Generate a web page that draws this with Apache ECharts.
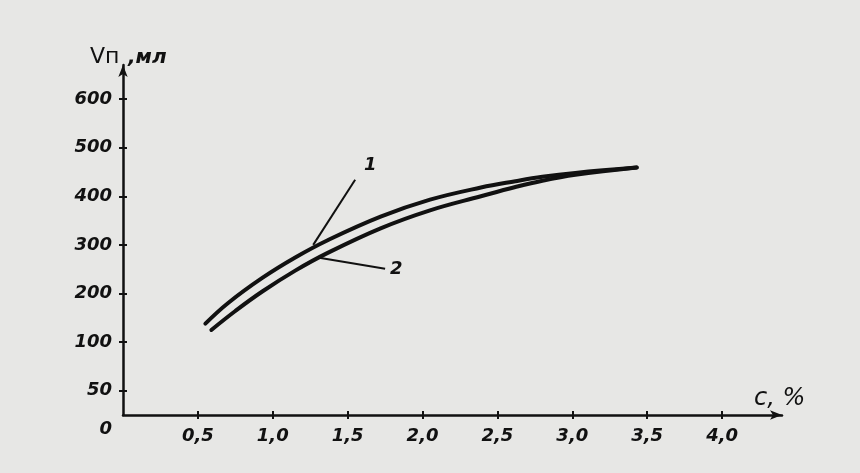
<!DOCTYPE html>
<html>
<head>
<meta charset="utf-8">
<script src="https://cdn.jsdelivr.net/npm/echarts@6/dist/echarts.min.js"></script>
<style>
  html, body { margin: 0; padding: 0; background: #e7e7e5; }
  #chart { width: 860px; height: 473px; }
</style>
</head>
<body>
<div id="chart"></div>
<script>
// C, %  vs  V, ml
const concentration1 = [0.55, 0.70, 0.93, 1.15, 1.37, 1.72, 2.05, 2.39, 2.62, 2.80, 3.02, 3.43];
const volume1 = [138, 180, 232, 274, 310, 358, 393, 418, 431, 440, 448, 459];
const concentration2 = [0.59, 0.75, 0.93, 1.15, 1.37, 1.72, 2.05, 2.39, 2.62, 2.80, 3.02, 3.43];
const volume2 = [125, 164, 204, 247, 284, 334, 371, 400, 419, 432, 444, 459];

// x ticks
const xTicks = [0.5, 1.0, 1.5, 2.0, 2.5, 3.0, 3.5, 4.0];
// y ticks: axis is broken below 100 (0 and 50 squeezed in under it)
const yTickLabels = ['0', '50', '100', '200', '300', '400', '500', '600'];
const yTickPos = [-0.5, 0, 1, 2, 3, 4, 5, 6];

// leader lines for curve labels, in data units
const leader1 = [[1.27, 300], [1.55, 434]];
const leader2 = [[1.30, 274], [1.75, 251]];

// y axis is in hundreds of ml
const toAxis = (v) => v / 100;

const ink = '#111';
const labelFont = { fontFamily: 'DejaVu Sans', fontStyle: 'italic', fontWeight: 'bold', fontSize: 18, color: ink };

const chart = echarts.init(document.getElementById('chart'));

const curve = (xs, ys) => xs.map((x, i) => [x, toAxis(ys[i])]);
const leader = (pts, text, pos) => ({
  type: 'line',
  data: pts.map((p, i) => ({
    value: [p[0], toAxis(p[1])],
    label: i === 1 ? { show: true, formatter: text, position: pos.position, offset: pos.offset, distance: 5,
      fontFamily: 'DejaVu Sans', fontStyle: 'italic', fontWeight: 'bold', fontSize: 18, color: ink } : { show: false }
  })),
  showSymbol: true,
  symbolSize: 0,
  lineStyle: { color: ink, width: 2 },
  z: 3
});

const option = {
  animation: false,
  backgroundColor: '#e7e7e5',
  grid: { left: 123, right: 78, top: 65, bottom: 58 },
  xAxis: [{
    type: 'value',
    min: 0,
    max: 4.4,
    splitLine: { show: false },
    axisLine: { onZero: false, lineStyle: { color: ink, width: 2.5 }, symbol: ['none', 'arrow'], symbolSize: [7, 12] },
    axisTick: { customValues: xTicks, length: 4, lineStyle: { color: ink, width: 2 } },
    axisLabel: {
      customValues: xTicks,
      margin: 12,
      ...labelFont,
      formatter: (v) => v.toFixed(1).replace('.', ',')
    },
    name: 'c, %',
    nameLocation: 'end',
    nameGap: -28,
    nameTextStyle: { fontFamily: 'DejaVu Sans', fontStyle: 'italic', fontSize: 24, color: ink,
      align: 'left', verticalAlign: 'bottom', padding: [0, 0, 4, 0] }
  }, {
    type: 'value',
    min: 0,
    max: 4.4,
    position: 'bottom',
    splitLine: { show: false },
    axisLine: { show: false, onZero: false },
    axisTick: { customValues: xTicks, inside: true, length: 4, lineStyle: { color: ink, width: 2 } },
    axisLabel: { show: false }
  }],
  yAxis: [{
    type: 'value',
    min: -0.5,
    max: 6.7,
    splitLine: { show: false },
    axisLine: { onZero: false, lineStyle: { color: ink, width: 2.5 }, symbol: ['none', 'arrow'], symbolSize: [7, 12] },
    axisTick: { customValues: yTickPos.slice(1), length: 4, lineStyle: { color: ink, width: 2 } },
    axisLabel: {
      customValues: yTickPos,
      margin: 11,
      ...labelFont,
      formatter: (v) => {
        const i = yTickPos.indexOf(v);
        const t = i >= 0 ? yTickLabels[i] : '';
        return v === -0.5 ? '{z|' + t + '}' : t;
      },
      rich: { z: { ...labelFont, padding: [28, 0, 0, 0] } }
    }
  }, {
    type: 'value',
    min: -0.5,
    max: 6.7,
    position: 'left',
    splitLine: { show: false },
    axisLine: { show: false, onZero: false },
    axisTick: { customValues: yTickPos.slice(1), inside: true, length: 4, lineStyle: { color: ink, width: 2 } },
    axisLabel: { show: false }
  }],
  graphic: [
    { type: 'text', left: 90, top: 46, style: { text: 'Vп', fontFamily: 'DejaVu Sans', fontSize: 22, fill: ink } },
    { type: 'text', left: 128, top: 48, style: { text: ',мл', fontFamily: 'DejaVu Sans', fontStyle: 'italic', fontWeight: 'bold', fontSize: 20, fill: ink } }
  ],
  series: [{
    name: '1',
    type: 'line',
    data: curve(concentration1, volume1),
    smooth: 0.4,
    showSymbol: false,
    lineStyle: { color: ink, width: 4, cap: 'round' },
    z: 4
  }, {
    name: '2',
    type: 'line',
    data: curve(concentration2, volume2),
    smooth: 0.4,
    showSymbol: false,
    lineStyle: { color: ink, width: 4, cap: 'round' },
    z: 4
  },
  leader(leader1, '1', { position: 'top', offset: [15, 0] }),
  leader(leader2, '2', { position: 'right', offset: [0, 1] })
  ]
};

chart.setOption(option);

window.addEventListener('resize', () => chart.resize());
</script>
</body>
</html>
